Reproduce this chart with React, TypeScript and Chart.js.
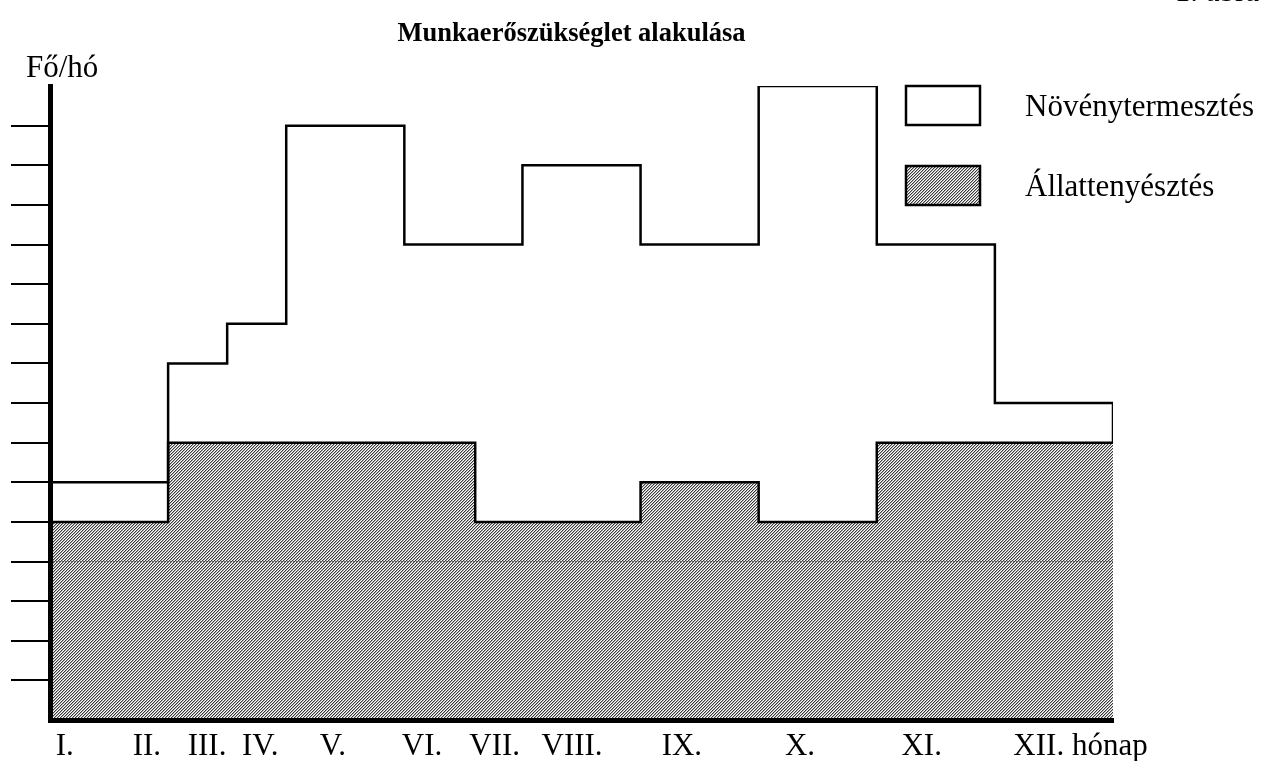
import React, { useEffect, useRef } from "react";
import { Chart, registerables } from "chart.js";

Chart.register(...registerables);

// ---- data ----
const titleText = "Munkaerőszükséglet alakulása";
const yUnitText = "Fő/hó";
const figureText = "1. ábra";
const seriesLabels = ["Növénytermesztés", "Állattenyésztés"];

// Total (Növénytermesztés) step boundaries and levels (Fő/hó units)
const totalX = [0, 2, 3, 4, 6, 8, 10, 12, 14, 16, 18, 18];
const totalY = [6, 9, 10, 15, 12, 14, 12, 16, 12, 8, 8, 7];

// Állattenyésztés step boundaries and levels
const animalX = [0, 2, 7.2, 10, 12, 14, 18];
const animalY = [5, 7, 5, 6, 5, 7, 7];

// faint dotted reference line
const refX = [0, 18];
const refY = [4, 4];

// x-axis labels and their positions
const monthLabels = ["I.", "II.", "III.", "IV.", "V.", "VI.", "VII.", "VIII.", "IX.", "X.", "XI.", "XII. hónap"];
const monthPos = [0.25, 1.64, 2.66, 3.56, 4.79, 6.3, 7.53, 8.84, 10.7, 12.7, 14.76, 17.45];

// y-axis tick marks (unlabelled)
const yTickValues = [1, 2, 3, 4, 5, 6, 7, 8, 9, 10, 11, 12, 13, 14, 15];
const yMin = 0;
const yMax = 16;
const xMin = 0;
const xMax = 18;

const FONT = "'Liberation Serif', 'Times New Roman', serif";

function makeHatch(): CanvasPattern | string {
  const c = document.createElement("canvas");
  c.width = 3;
  c.height = 3;
  const g = c.getContext("2d");
  if (!g) return "#a5a5a5";
  const cols = ["#3a3a3a", "#b0b0b0", "#ffffff"];
  for (let x = 0; x < 3; x++) {
    for (let y = 0; y < 3; y++) {
      g.fillStyle = cols[(x + y) % 3];
      g.fillRect(x, y, 1, 1);
    }
  }
  const p = g.createPattern(c, "repeat");
  return p || "#a5a5a5";
}

export default function App() {
  const ref = useRef<HTMLCanvasElement | null>(null);

  useEffect(() => {
    const canvas = ref.current;
    if (!canvas) return;
    const hatch = makeHatch();

    const extras = {
      id: "extras",
      afterDraw(chart: any) {
        const ctx = chart.ctx;
        ctx.save();
        ctx.fillStyle = "#000";
        ctx.textBaseline = "alphabetic";
        ctx.textAlign = "left";
        ctx.font = `31px ${FONT}`;
        // unit label
        ctx.fillText(yUnitText, 26, 77);
        // figure label (cut off at top)
        ctx.textAlign = "right";
        ctx.fillText(figureText, 1259, 1);
        // legend
        const fills = [null, hatch];
        const boxX = 906;
        const boxW = 74;
        const boxH = 39;
        const boxYs = [86, 166];
        for (let i = 0; i < seriesLabels.length; i++) {
          const by = boxYs[i];
          ctx.fillStyle = fills[i] ? (fills[i] as any) : "#fff";
          ctx.fillRect(boxX, by, boxW, boxH);
          ctx.lineWidth = 2.5;
          ctx.strokeStyle = "#000";
          ctx.strokeRect(boxX, by, boxW, boxH);
          ctx.fillStyle = "#000";
          ctx.textAlign = "left";
          ctx.font = `31px ${FONT}`;
          ctx.fillText(seriesLabels[i], 1025, by + boxH / 2 + 10);
        }
        ctx.restore();
      },
    };

    const chart = new Chart(canvas, {
      type: "line",
      data: {
        datasets: [
          {
            label: seriesLabels[0],
            data: totalX.map((x, i) => ({ x, y: totalY[i] })),
            stepped: true,
            borderColor: "#000",
            borderWidth: 2.5,
            fill: false,
            pointRadius: 0,
            order: 0,
          },
          {
            label: seriesLabels[1],
            data: animalX.map((x, i) => ({ x, y: animalY[i] })),
            stepped: true,
            borderColor: "#000",
            borderWidth: 2.5,
            backgroundColor: hatch as any,
            fill: "origin",
            pointRadius: 0,
            order: 1,
          },
          {
            label: "ref",
            data: refX.map((x, i) => ({ x, y: refY[i] })),
            borderColor: "rgba(90,90,90,0.8)",
            borderWidth: 1,
            borderDash: [1, 2],
            fill: false,
            pointRadius: 0,
            order: -1,
          },
        ],
      },
      options: {
        responsive: false,
        animation: false,
        layout: { padding: { left: 30, right: 150, top: 0, bottom: 0 } },
        plugins: {
          legend: { display: false },
          tooltip: { enabled: false },
          title: {
            display: true,
            text: titleText,
            color: "#000",
            font: { family: FONT, size: 26.5, weight: "bold", lineHeight: 1.2 },
            padding: { top: 18, bottom: 36.2 },
          },
        },
        scales: {
          x: {
            type: "linear",
            min: xMin,
            max: xMax,
            afterBuildTicks: (s: any) => {
              s.ticks = monthPos.map((v) => ({ value: v }));
            },
            afterFit: (s: any) => {
              s.height = 41;
            },
            grid: { display: false, drawTicks: false },
            border: { display: true, color: "#000", width: 5, z: 2 },
            ticks: {
              autoSkip: false,
              maxRotation: 0,
              minRotation: 0,
              padding: 11,
              color: "#000",
              font: { family: FONT, size: 31, lineHeight: 1.0 },
              callback: (_v: any, i: number) => monthLabels[i],
            },
          },
          y: {
            type: "linear",
            min: yMin,
            max: yMax,
            afterBuildTicks: (s: any) => {
              s.ticks = yTickValues.map((v) => ({ value: v }));
            },
            afterFit: (s: any) => {
              s.width = 20;
            },
            grid: {
              display: true,
              drawOnChartArea: false,
              drawTicks: true,
              tickLength: 39,
              tickWidth: 2,
              tickColor: "#000",
              lineWidth: 2,
              color: "#000",
            },
            border: { display: true, color: "#000", width: 5, z: 2 },
            ticks: { display: false },
          },
        },
      },
      plugins: [extras],
    } as any);

    return () => chart.destroy();
  }, []);

  return (
    <div style={{ position: "fixed", left: 0, top: 0, width: 1263, height: 761, background: "#fff" }}>
      <canvas ref={ref} width={1263} height={761} style={{ width: 1263, height: 761, display: "block" }} />
    </div>
  );
}
